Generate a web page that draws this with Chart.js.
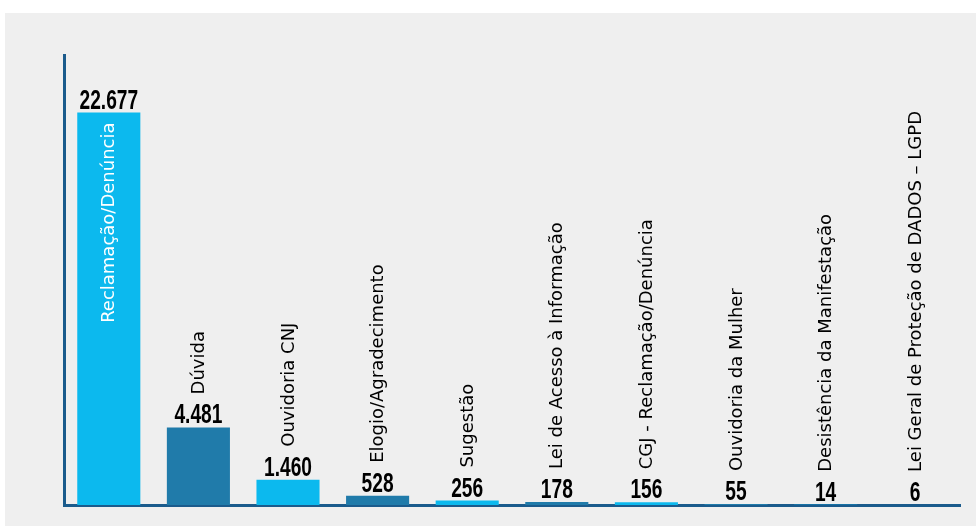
<!DOCTYPE html>
<html lang="pt-BR">
<head>
<meta charset="utf-8">
<title>Manifestações por tipo</title>
<script src="https://cdn.jsdelivr.net/npm/chart.js@4.4.1/dist/chart.umd.min.js"></script>
<style>
    body { margin: 0; background: #ffffff; }
    #painel { position: absolute; left: 5px; top: 13px; width: 971px; height: 513px; background: #efefef; }
</style>
</head>
<body>
<div id="painel"><canvas id="grafico" width="971" height="513"></canvas></div>
<script>
const categorias = [
    'Reclamação/Denúncia',
    'Dúvida',
    'Ouvidoria CNJ',
    'Elogio/Agradecimento',
    'Sugestão',
    'Lei de Acesso à Informação',
    'CGJ - Reclamação/Denúncia',
    'Ouvidoria da Mulher',
    'Desistência da Manifestação',
    'Lei Geral de Proteção de DADOS – LGPD'
];
const valores = [22677, 4481, 1460, 528, 256, 178, 156, 55, 14, 6];
const escalaMax = 26000;

const azulClaro = '#0cb9ee';
const azulEscuro = '#207baa';
const corEixo = '#1b5b8c';
const cores = valores.map((v, i) => i % 2 == 0 ? azulClaro : azulEscuro);

const fonteValor = "bold 27px 'Liberation Sans', Arial, sans-serif";
const estreitar = 0.71; // os números do original são bem condensados
const fonteCategoria = "18px 'DejaVu Sans', 'Noto Sans', sans-serif";

function formatar(n) {
    return n.toString().replace(/\B(?=(\d{3})+(?!\d))/g, '.');
}

// rótulos de valor e de categoria acima de cada barra
const rotulos = {
    id: 'rotulos',
    afterDatasetsDraw(chart) {
        const ctx = chart.ctx;
        const meta = chart.getDatasetMeta(0);
        const area = chart.chartArea;
        meta.data.forEach((barra, i) => {
            const topo = barra.y;
            ctx.save();
            ctx.translate(barra.x, topo - 4);
            ctx.scale(estreitar, 1);
            ctx.font = fonteValor;
            ctx.fillStyle = '#000000';
            ctx.textAlign = 'center';
            ctx.textBaseline = 'alphabetic';
            ctx.fillText(formatar(valores[i]), 0, 0);
            ctx.restore();

            ctx.save();
            ctx.font = fonteCategoria;
            const largura = ctx.measureText(categorias[i]).width;
            let inicio = topo - 4 - 19 - 10;
            let cor = '#000000';
            if (inicio - largura < area.top) {
                // não cabe em cima: escreve dentro da barra
                inicio = topo + 10 + largura;
                cor = '#ffffff';
            }
            ctx.translate(barra.x + 1, inicio);
            ctx.rotate(-Math.PI / 2);
            ctx.fillStyle = cor;
            ctx.textAlign = 'left';
            ctx.textBaseline = 'middle';
            ctx.fillText(categorias[i], 0, 0);
            ctx.restore();
        });
    }
};

new Chart(document.querySelector('#grafico'), {
    type: 'bar',
    data: {
        labels: categorias,
        datasets: [{
            data: valores,
            backgroundColor: cores,
            borderWidth: 0,
            categoryPercentage: 1,
            barPercentage: 0.704
        }]
    },
    options: {
        responsive: false,
        animation: false,
        layout: { padding: { left: 59, top: 42, right: 16, bottom: 21 } },
        plugins: {
            legend: { display: false },
            tooltip: { enabled: false }
        },
        scales: {
            x: {
                grid: { display: false },
                ticks: { display: false },
                border: { display: true, color: corEixo, width: 3 },
                afterFit(scale) { scale.height = 0; }
            },
            y: {
                min: 0,
                max: escalaMax,
                grid: { display: false },
                ticks: { display: false },
                border: { display: true, color: corEixo, width: 3 },
                afterFit(scale) { scale.width = 0; }
            }
        }
    },
    plugins: [rotulos]
});
</script>
</body>
</html>
